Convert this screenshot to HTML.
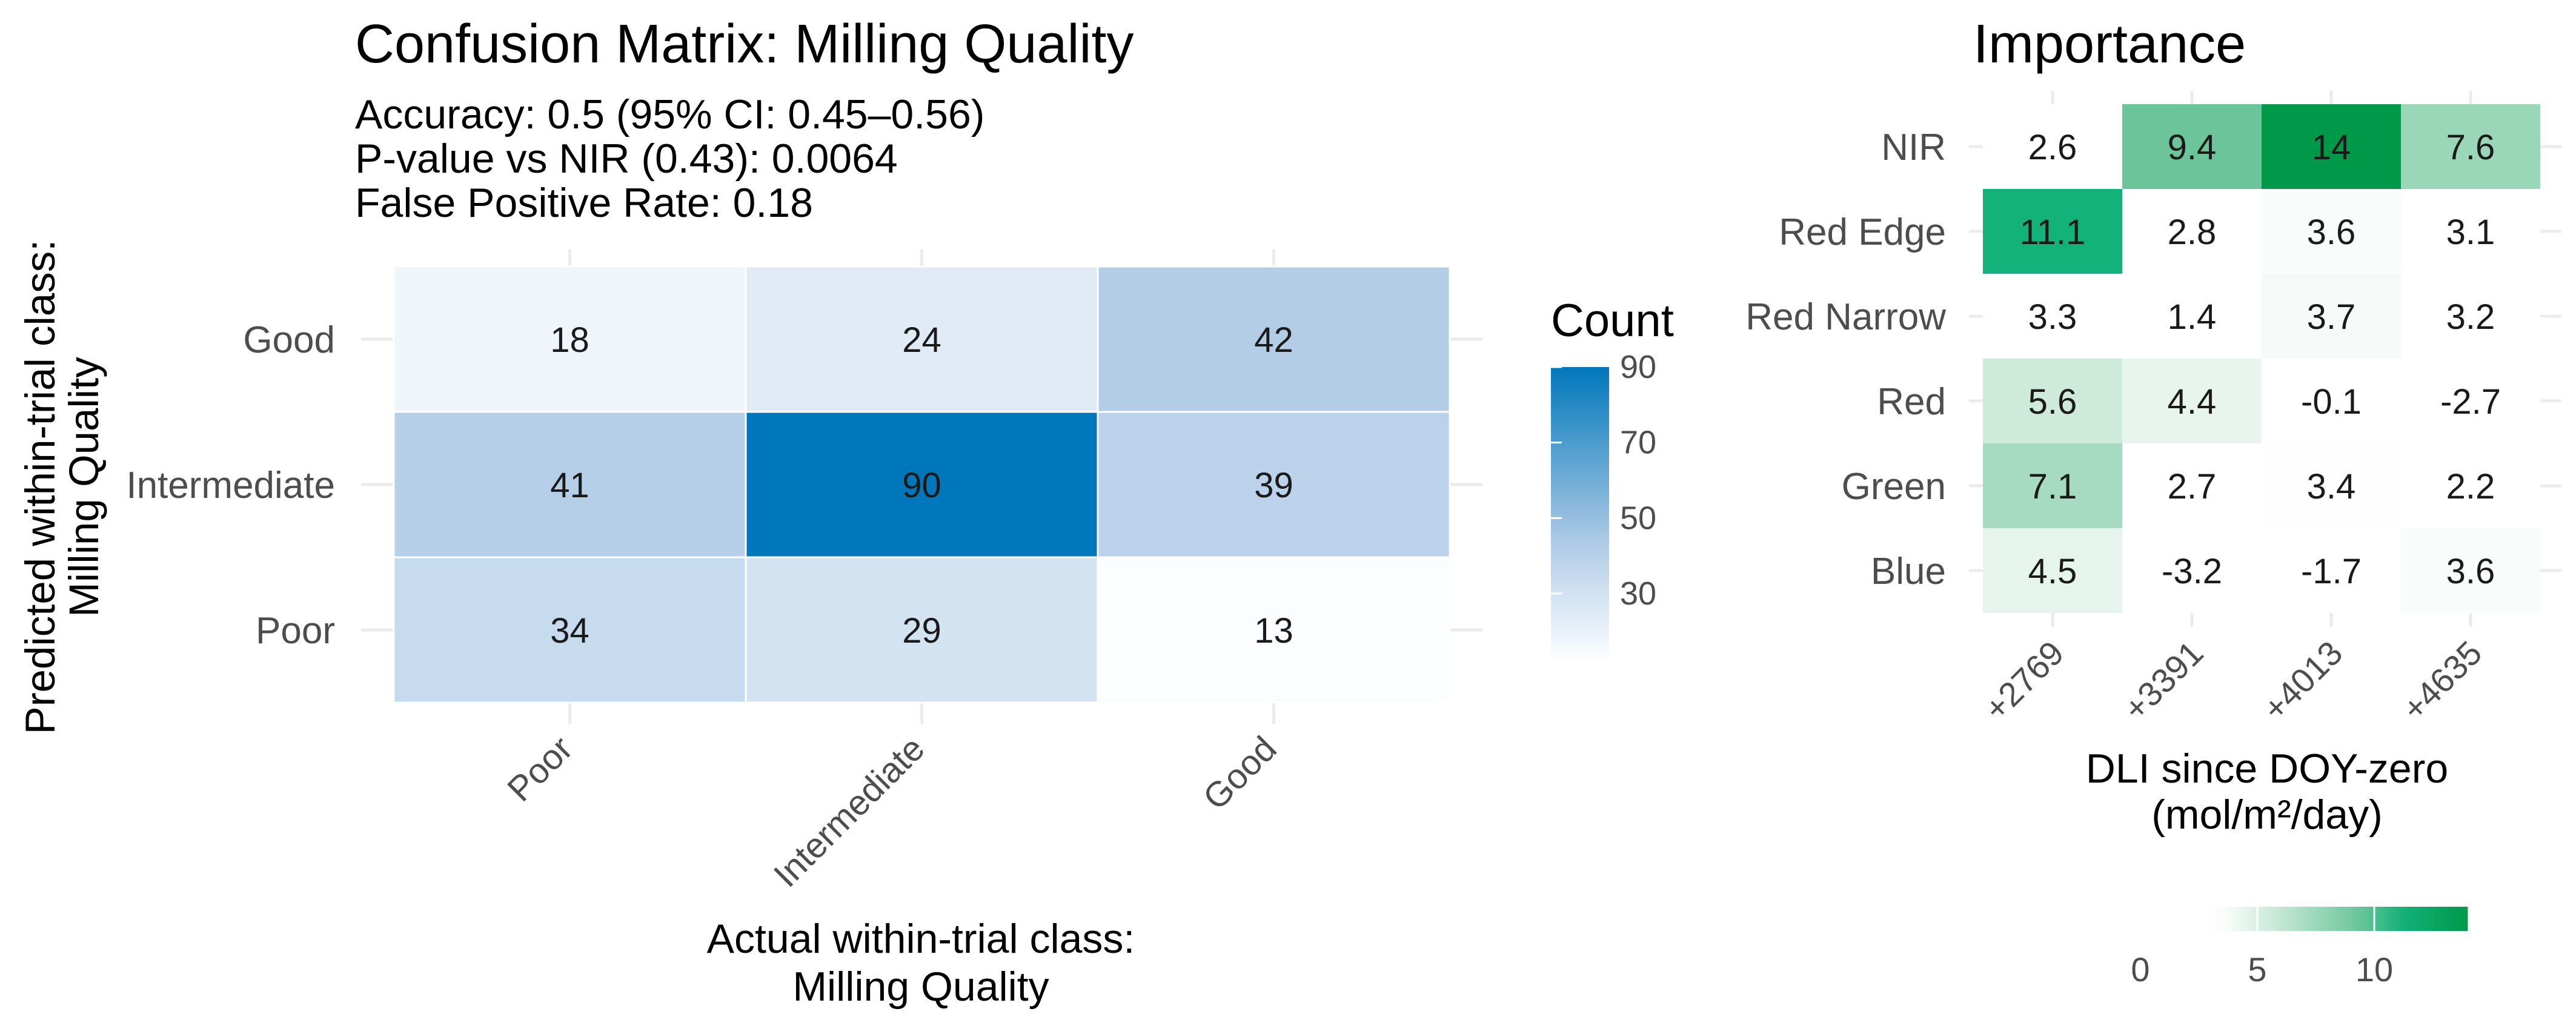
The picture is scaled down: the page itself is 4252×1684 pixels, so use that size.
<!DOCTYPE html>
<html><head><meta charset="utf-8"><style>
html,body{margin:0;padding:0;background:#fff;}
svg{display:block;font-family:"Liberation Sans",sans-serif;}
</style></head><body>
<svg id="chart" width="4252" height="1684" viewBox="0 0 4252 1684" xmlns="http://www.w3.org/2000/svg">
<g id="left">
<text x="586" y="103" font-size="90" fill="#000">Confusion Matrix: Milling Quality</text>
<text x="586" y="212" font-size="68" fill="#000">Accuracy: 0.5 (95% CI: 0.45–0.56)</text>
<text x="586" y="285" font-size="68" fill="#000">P-value vs NIR (0.43): 0.0064</text>
<text x="586" y="358" font-size="68" fill="#000">False Positive Rate: 0.18</text>
<g id="cmGrid"></g>
<g id="cmCells"></g>
<g id="cmAxes"></g>
<text transform="translate(90,804) rotate(-90)" text-anchor="middle" font-size="69" fill="#000">Predicted within-trial class:</text>
<text transform="translate(162,804) rotate(-90)" text-anchor="middle" font-size="69" fill="#000">Milling Quality</text>
<text x="1520" y="1573" text-anchor="middle" font-size="68" fill="#000">Actual within-trial class:</text>
<text x="1520" y="1652" text-anchor="middle" font-size="68" fill="#000">Milling Quality</text>
<text x="2560" y="555" font-size="76" fill="#000">Count</text>
<g id="cmLegend"></g>
</g>
<g id="right">
<text x="3257" y="103" font-size="90" fill="#000">Importance</text>
<g id="imGrid"></g>
<g id="imCells"></g>
<g id="imAxes"></g>
<text x="3742" y="1292" text-anchor="middle" font-size="68" fill="#000">DLI since DOY-zero</text>
<text x="3742" y="1368" text-anchor="middle" font-size="68" fill="#000">(mol/m²/day)</text>
<g id="imLegend"></g>
</g>
</svg>
<script>
// ---- Confusion matrix data ----
const cmActual = ["Poor","Intermediate","Good"];
const cmPredicted = ["Good","Intermediate","Poor"]; // top to bottom
const cmCounts = [
  [18,24,42],
  [41,90,39],
  [34,29,13]
];
const cmLegendTicks = [30,50,70,90];
// ---- Importance data ----
const imCols = ["+2769","+3391","+4013","+4635"];
const imRows = ["NIR","Red Edge","Red Narrow","Red","Green","Blue"];
const imValues = [
  [2.6,9.4,14,7.6],
  [11.1,2.8,3.6,3.1],
  [3.3,1.4,3.7,3.2],
  [5.6,4.4,-0.1,-2.7],
  [7.1,2.7,3.4,2.2],
  [4.5,-3.2,-1.7,3.6]
];
const imLegendTicks = [0,5,10];

const NS="http://www.w3.org/2000/svg";
function mk(tag,attrs,parent){const e=document.createElementNS(NS,tag);for(const k in attrs)e.setAttribute(k,attrs[k]);parent.appendChild(e);return e;}
function hex(c){return [parseInt(c.slice(1,3),16),parseInt(c.slice(3,5),16),parseInt(c.slice(5,7),16)];}
function interp(stops,v){
  if(v<=stops[0][0])return "rgb("+hex(stops[0][1]).join(",")+")";
  for(let i=1;i<stops.length;i++){if(v<=stops[i][0]){const a=stops[i-1],b=stops[i];const t=(v-a[0])/(b[0]-a[0]);const ca=hex(a[1]),cb=hex(b[1]);return "rgb("+ca.map((x,j)=>Math.round(x+(cb[j]-x)*t)).join(",")+")";}}
  return "rgb("+hex(stops[stops.length-1][1]).join(",")+")";
}
// ---------- Confusion matrix ----------
const cmX0=650,cmX1=2393,cmY0=440,cmY1=1160;
const cmW=(cmX1-cmX0)/cmActual.length,cmH=(cmY1-cmY0)/cmPredicted.length;
const xScale=i=>cmX0+i*cmW, yScale=j=>cmY0+j*cmH;
const cmMin=Math.min(...cmCounts.flat()),cmMax=Math.max(...cmCounts.flat());
const blueStops=[[cmMin,"#fbfdff"],[cmMin+(cmMax-cmMin)*0.38,"#b3cde7"],[cmMax,"#0077bb"]];
const g1=document.getElementById('cmGrid');
cmActual.forEach((c,i)=>{const x=xScale(i)+cmW/2;const l=mk('line',{x1:x,x2:x,y1:412,y2:1195,stroke:'#ebebeb','stroke-width':5},g1);

});
cmPredicted.forEach((c,j)=>{const y=yScale(j)+cmH/2;const l=mk('line',{x1:596,x2:2447,y1:y,y2:y,stroke:'#ebebeb','stroke-width':5},g1);

});
const gc=document.getElementById('cmCells');
cmCounts.forEach((row,j)=>row.forEach((v,i)=>{
  const r=mk('rect',{x:xScale(i),y:yScale(j),width:cmW,height:cmH,fill:interp(blueStops,v),stroke:'#fff','stroke-width':3},gc);
  
  
  const t=mk('text',{x:xScale(i)+cmW/2,y:yScale(j)+cmH/2+21,'text-anchor':'middle','font-size':58,fill:'#1a1a1a'},gc);
  t.textContent=v;
  
  
}));
const ga=document.getElementById('cmAxes');
cmPredicted.forEach((c,j)=>{const t=mk('text',{x:553,y:yScale(j)+cmH/2+22,'text-anchor':'end','font-size':62,fill:'#4d4d4d'},ga);t.textContent=c;

});
cmActual.forEach((c,i)=>{const x=xScale(i)+cmW/2+8;const t=mk('text',{transform:'translate('+x+',1240) rotate(-45)','text-anchor':'end','font-size':58,fill:'#4d4d4d'},ga);t.textContent=c;

});
// count legend
const gl=document.getElementById('cmLegend');
const lgTop=606,lgBot=1086,lgX=2560,lgW=96;
const lgScale=v=>lgBot-(v-cmMin)/(cmMax-cmMin)*(lgBot-lgTop);
const defs=mk('defs',{},gl);
const grad=mk('linearGradient',{id:'blueGrad',x1:0,y1:1,x2:0,y2:0},defs);
for(let k=0;k<=10;k++){const v=cmMin+(cmMax-cmMin)*k/10;mk('stop',{offset:(k*10)+'%','stop-color':interp(blueStops,v)},grad);}
const lb=mk('rect',{x:lgX,y:lgTop,width:lgW,height:lgBot-lgTop,fill:'url(#blueGrad)'},gl);


cmLegendTicks.forEach(v=>{const y=lgScale(v);
  const tk=mk('line',{x1:lgX,x2:lgX+18,y1:y,y2:y,stroke:'#fff','stroke-width':3},gl);
  
  
  const t=mk('text',{x:lgX+lgW+18,y:y+18,'font-size':54,fill:'#4d4d4d'},gl);t.textContent=v;
  
  });
// ---------- Importance ----------
const imX0=3273,imX1=4193,imY0=172,imY1=1012;
const iW=(imX1-imX0)/imCols.length,iH=(imY1-imY0)/imRows.length;
const ix=i=>imX0+i*iW, iy=j=>imY0+j*iH;
const imMin=Math.min(...imValues.flat()),imMax=Math.max(...imValues.flat());
const greenStops=[[imMin,"#ffffff"],[3.3,"#ffffff"],[5.6,"#cdeadb"],[9.4,"#6cc59a"],[11.1,"#12b27a"],[imMax,"#00994a"]];
const ig=document.getElementById('imGrid');
imCols.forEach((c,i)=>{const x=ix(i)+iW/2;const l=mk('line',{x1:x,x2:x,y1:150,y2:1035,stroke:'#ebebeb','stroke-width':5},ig);

});
imRows.forEach((c,j)=>{const y=iy(j)+iH/2;const l=mk('line',{x1:3250,x2:4228,y1:y,y2:y,stroke:'#ebebeb','stroke-width':5},ig);

});
const ic=document.getElementById('imCells');
imValues.forEach((row,j)=>row.forEach((v,i)=>{
  const r=mk('rect',{x:ix(i),y:iy(j),width:iW,height:iH,fill:interp(greenStops,v)},ic);
  
  
  const t=mk('text',{x:ix(i)+iW/2,y:iy(j)+iH/2+21,'text-anchor':'middle','font-size':58,fill:'#1a1a1a'},ic);
  t.textContent=v;
  
  
}));
const ia=document.getElementById('imAxes');
imRows.forEach((c,j)=>{const t=mk('text',{x:3212,y:iy(j)+iH/2+22,'text-anchor':'end','font-size':62,fill:'#4d4d4d'},ia);t.textContent=c;

});
imCols.forEach((c,i)=>{const x=ix(i)+iW/2+22;const t=mk('text',{transform:'translate('+x+',1082) rotate(-45)','text-anchor':'end','font-size':56,fill:'#4d4d4d'},ia);t.textContent=c;

});
// importance legend
const il=document.getElementById('imLegend');
const ilScale=v=>3533+v*38.6;
const ilY=1497,ilH=40;
const g2=mk('linearGradient',{id:'greenGrad',x1:0,y1:0,x2:1,y2:0},defs);
for(let k=0;k<=20;k++){const v=imMin+(imMax-imMin)*k/20;mk('stop',{offset:(k*5)+'%','stop-color':interp(greenStops,v)},g2);}
const ib=mk('rect',{x:ilScale(imMin),y:ilY,width:ilScale(imMax)-ilScale(imMin),height:ilH,fill:'url(#greenGrad)'},il);


imLegendTicks.forEach(v=>{const x=ilScale(v);
  const tk=mk('line',{x1:x,x2:x,y1:ilY,y2:ilY+ilH,stroke:'#fff','stroke-width':3},il);
  
  
  const t=mk('text',{x:x,y:1620,'text-anchor':'middle','font-size':56,fill:'#4d4d4d'},il);t.textContent=v;
  
  });
</script>
</body></html>
